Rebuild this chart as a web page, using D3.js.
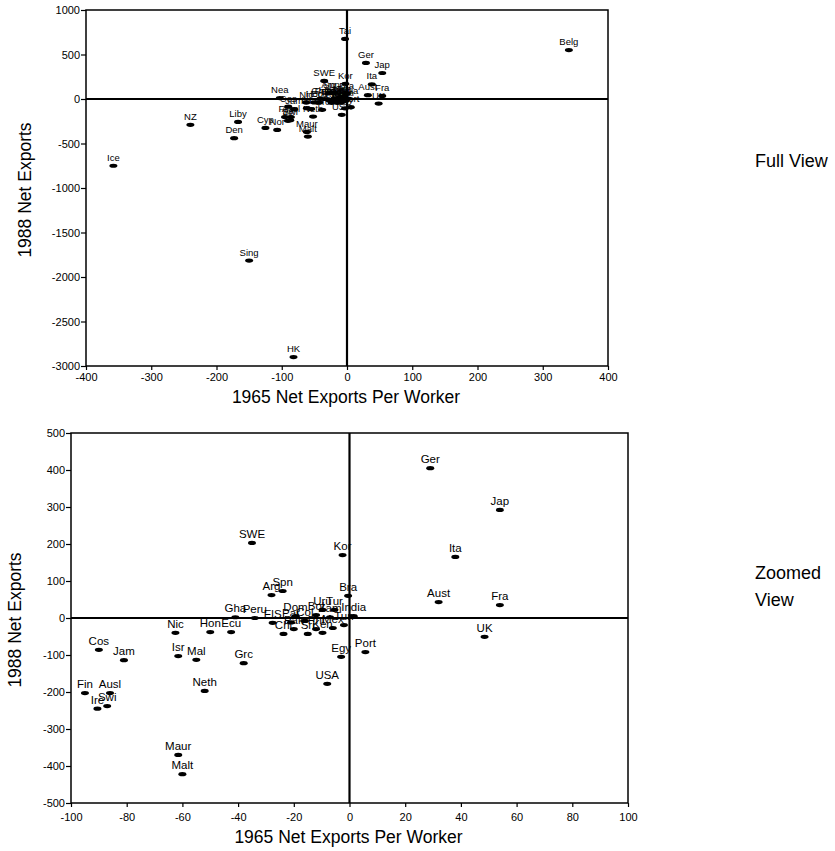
<!DOCTYPE html>
<html>
<head>
<meta charset="utf-8">
<script src="https://cdn.jsdelivr.net/npm/d3@7.9.0/dist/d3.min.js"></script>
<style>
  body { margin: 0; background: #fff; }
  svg { display: block; font-family: "Liberation Sans", Arial, sans-serif; }
</style>
</head>
<body>
<svg id="chart" width="835" height="851"></svg>
<script>
// country labels and their net exports (1965 per worker, 1988)
const countries = [
  'Tai', 'Belg', 'NZ', 'Liby', 'Den', 'Ice', 'Cyp', 'Nor', 'Sing', 'HK', 'Nea',
  'Ger', 'Jap', 'Ita', 'Aust', 'Fra', 'UK', 'Kor', 'Bra', 'SWE', 'Arg', 'Spn',
  'Gha', 'Peru', 'Nic', 'Hon', 'Ecu', 'Cos', 'Jam', 'Isr', 'Mal', 'Grc', 'Neth',
  'Fin', 'Ausl', 'Ire', 'Swi', 'Maur', 'Malt', 'USA', 'Egy', 'Port',
  'ElS', 'Chl', 'Pak', 'Sri', 'Phi', 'Ken', 'Mex', 'Tun', 'Col', 'Par',
  'Bol', 'Zam', 'Uru', 'Tur', 'Dom', 'India'
];
const exports1965 = [
  -3, 340, -240, -167, -173, -358, -125, -107, -150, -82, -103,
  29, 54, 38, 32, 54, 48.5, -2.5, -0.5, -35, -28, -24,
  -41, -34, -62.5, -50, -42.5, -90, -81, -61.5, -55, -38, -52,
  -95, -86, -90.5, -87, -61.5, -60, -8, -3, 5.7,
  -27.6, -23.7, -20, -15, -12, -9.7, -6, -2, -16, -21,
  -12, -7, -9.7, -5.4, -19.4, 1.5
];
const exports1988 = [
  675, 550, -290, -258, -440, -750, -325, -348, -1815, -2900, 10,
  405, 292, 165, 43, 35, -51, 170, 60, 203, 62, 73,
  2, 0, -40, -38, -38, -86, -114, -103, -113, -122, -197,
  -203, -203, -245, -238, -370, -422, -178, -105, -92,
  -13, -43, -30, -43, -30, -40, -27, -19, -8, -12,
  8, 2, 22, 22, 5, 5
];

const fullXTicks = [-400, -300, -200, -100, 0, 100, 200, 300, 400];
const fullYTicks = [1000, 500, 0, -500, -1000, -1500, -2000, -2500, -3000];
const zoomXTicks = [-100, -80, -60, -40, -20, 0, 20, 40, 60, 80, 100];
const zoomYTicks = [500, 400, 300, 200, 100, 0, -100, -200, -300, -400, -500];

const xTitle = '1965 Net Exports Per Worker';
const yTitle = '1988 Net Exports';

const points = countries.map((c, i) => ({ label: c, x: exports1965[i], y: exports1988[i] }));

const svg = d3.select('#chart');

function drawPanel(cfg) {
  const g = svg.append('g');
  const xDom = d3.extent(cfg.xTicks);
  const yDom = d3.extent(cfg.yTicks);
  const x = d3.scaleLinear().domain(xDom).range([cfg.left, cfg.right]);
  const y = d3.scaleLinear().domain(yDom).range([cfg.bottom, cfg.top]);

  // only the countries that fall inside this view
  const shown = points.filter(d => d.x >= xDom[0] && d.x <= xDom[1] && d.y >= yDom[0] && d.y <= yDom[1]);

  // axes
  const xAxis = g.append('g')
    .attr('transform', `translate(0,${cfg.bottom})`)
    .call(d3.axisBottom(x).tickValues(cfg.xTicks).tickSize(4).tickPadding(cfg.xPad).tickFormat(d => String(d)));
  const yAxis = g.append('g')
    .attr('transform', `translate(${cfg.left},0)`)
    .call(d3.axisLeft(y).tickValues(cfg.yTicks).tickSize(5).tickPadding(1).tickFormat(d => String(d)));
  [xAxis, yAxis].forEach(a => {
    a.select('.domain').remove();
    a.selectAll('line').attr('stroke', '#000').attr('stroke-width', 1.2);
    a.selectAll('text').attr('font-size', 11).attr('fill', '#000')
      .attr('font-family', '"Liberation Sans", Arial, sans-serif');
  });

  // frame
  g.append('rect')
    .attr('x', cfg.left).attr('y', cfg.top)
    .attr('width', cfg.right - cfg.left).attr('height', cfg.bottom - cfg.top)
    .attr('fill', 'none').attr('stroke', '#000').attr('stroke-width', 1.5);

  // zero reference lines
  g.append('line')
    .attr('x1', cfg.left).attr('x2', cfg.right)
    .attr('y1', y(0)).attr('y2', y(0))
    .attr('stroke', '#000').attr('stroke-width', 2.2);
  g.append('line')
    .attr('x1', x(0)).attr('x2', x(0))
    .attr('y1', cfg.top).attr('y2', cfg.bottom)
    .attr('stroke', '#000').attr('stroke-width', 2.2);

  const marks = g.append('g');
  marks.selectAll('ellipse')
    .data(shown)
    .join('ellipse')
    .attr('cx', d => x(d.x))
    .attr('cy', d => y(d.y))
    .attr('rx', 4)
    .attr('ry', 2.1)
    .attr('fill', '#000');
  marks.selectAll('text')
    .data(shown)
    .join('text')
    .attr('x', d => x(d.x))
    .attr('y', d => y(d.y) - 5)
    .attr('text-anchor', 'middle')
    .attr('font-size', cfg.labelSize)
    .attr('fill', '#000')
    .text(d => d.label);

  // titles
  g.append('text')
    .attr('x', (cfg.left + cfg.right) / 2 - 1)
    .attr('y', cfg.xTitleY)
    .attr('text-anchor', 'middle')
    .attr('font-size', 17.5)
    .text(xTitle);
  g.append('text')
    .attr('transform', `translate(${cfg.yTitleX},${cfg.yTitleMid}) rotate(-90)`)
    .attr('text-anchor', 'middle')
    .attr('font-size', 17.5)
    .text(yTitle);

  // panel name on the right
  g.append('text')
    .attr('x', 755)
    .attr('y', cfg.nameY)
    .attr('font-size', 18)
    .selectAll('tspan')
    .data(cfg.panelName)
    .join('tspan')
    .attr('x', 755)
    .attr('dy', (d, i) => (i === 0 ? 0 : 27))
    .text(d => d);
}

drawPanel({
  left: 86, right: 608, top: 10, bottom: 366,
  xTicks: fullXTicks, yTicks: fullYTicks, xPad: 3, labelSize: 9.5,
  xTitleY: 403, yTitleX: 31, yTitleMid: 190,
  nameY: 167, panelName: ['Full View']
});

drawPanel({
  left: 71, right: 628, top: 433, bottom: 803,
  xTicks: zoomXTicks, yTicks: zoomYTicks, xPad: 6, labelSize: 11.5,
  xTitleY: 843, yTitleX: 21, yTitleMid: 620,
  nameY: 579, panelName: ['Zoomed', 'View']
});
</script>
</body>
</html>
